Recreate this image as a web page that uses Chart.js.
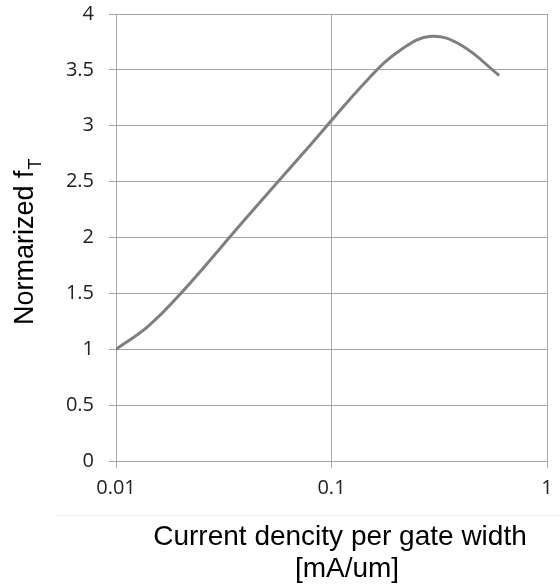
<!DOCTYPE html>
<html>
<head>
<meta charset="utf-8">
<script src="https://cdn.jsdelivr.net/npm/chart.js@4/dist/chart.umd.min.js"></script>
<style>
  html, body { margin: 0; padding: 0; background: #fff; }
  #wrap { width: 560px; height: 587px; }
</style>
</head>
<body>
<div id="wrap"><canvas id="ft"></canvas></div>
<script>
// values
const currentDensity = [0.01, 0.014, 0.02, 0.04, 0.08, 0.15, 0.21, 0.29, 0.4, 0.6];
const normalizedFt   = [1.0, 1.2, 1.5, 2.17, 2.83, 3.43, 3.68, 3.8, 3.72, 3.45];
const xTicks = [0.01, 0.1, 1];
const yMin = 0, yMax = 4, yStep = 0.5;

const gridColor = '#a6a6a6';
const lineColor = '#7f7f7f';

// axis titles drawn by hand (subscript T on f)
const titlesPlugin = {
  id: 'titles',
  beforeDraw(chart) {
    const ctx = chart.ctx;
    ctx.save();
    ctx.strokeStyle = '#f0f0f0';
    ctx.lineWidth = 1;
    ctx.beginPath();
    ctx.moveTo(55, 515.5);
    ctx.lineTo(560, 515.5);
    ctx.stroke();
    ctx.restore();
  },
  afterDraw(chart) {
    const ctx = chart.ctx;
    ctx.save();
    ctx.fillStyle = '#000';
    ctx.textAlign = 'center';
    ctx.textBaseline = 'alphabetic';
    ctx.font = '28px "Liberation Sans", Arial, sans-serif';
    ctx.fillText('Current dencity per gate width', 340, 545);
    ctx.fillText('[mA/um]', 347, 577);

    // y title, rotated
    ctx.translate(33, 325);
    ctx.rotate(-Math.PI / 2);
    ctx.textAlign = 'left';
    ctx.font = '27px "Liberation Sans", Arial, sans-serif';
    const main = 'Normarized f';
    ctx.fillText(main, 0, 0);
    const w = ctx.measureText(main).width;
    ctx.font = '18px "Liberation Sans", Arial, sans-serif';
    ctx.fillText('T', w + 1, 8);
    ctx.restore();
  }
};

new Chart(document.getElementById('ft'), {
  type: 'line',
  data: {
    datasets: [{
      label: 'fT',
      data: currentDensity.map((x, i) => ({ x, y: normalizedFt[i] })),
      borderColor: lineColor,
      borderWidth: 3,
      pointRadius: 0,
      tension: 0.4,
      fill: false,
    }],
  },
  options: {
    responsive: true,
    maintainAspectRatio: false,
    animation: false,
    layout: { padding: { left: 0, top: 14, right: 13, bottom: 0 } },
    plugins: {
      legend: { display: false },
      tooltip: { enabled: false },
    },
    scales: {
      x: {
        type: 'logarithmic',
        min: 0.01,
        max: 1,
        afterBuildTicks: (s) => { s.ticks = xTicks.map(v => ({ value: v })); },
        afterFit: (s) => {
          s.height = 126;
          s.paddingLeft = 0;
          s.paddingRight = 0;
        },
        ticks: {
          color: '#222',
          font: { family: '"Open Sans", sans-serif', size: 20 },
          padding: 8,
          maxRotation: 0,
          callback: (v) => String(v),
        },
        grid: { color: gridColor, lineWidth: 1, tickLength: 7 },
        border: { color: gridColor },
      },
      y: {
        min: yMin,
        max: yMax,
        afterFit: (s) => {
          s.width = 116;
          s.paddingTop = 0;
          s.paddingBottom = 0;
        },
        ticks: {
          stepSize: yStep,
          color: '#222',
          font: { family: '"Open Sans", sans-serif', size: 20 },
          padding: 15,
          callback: (v) => String(v),
        },
        grid: { color: gridColor, lineWidth: 1, tickLength: 7 },
        border: { color: gridColor },
      },
    },
  },
  plugins: [titlesPlugin],
});
</script>
</body>
</html>
